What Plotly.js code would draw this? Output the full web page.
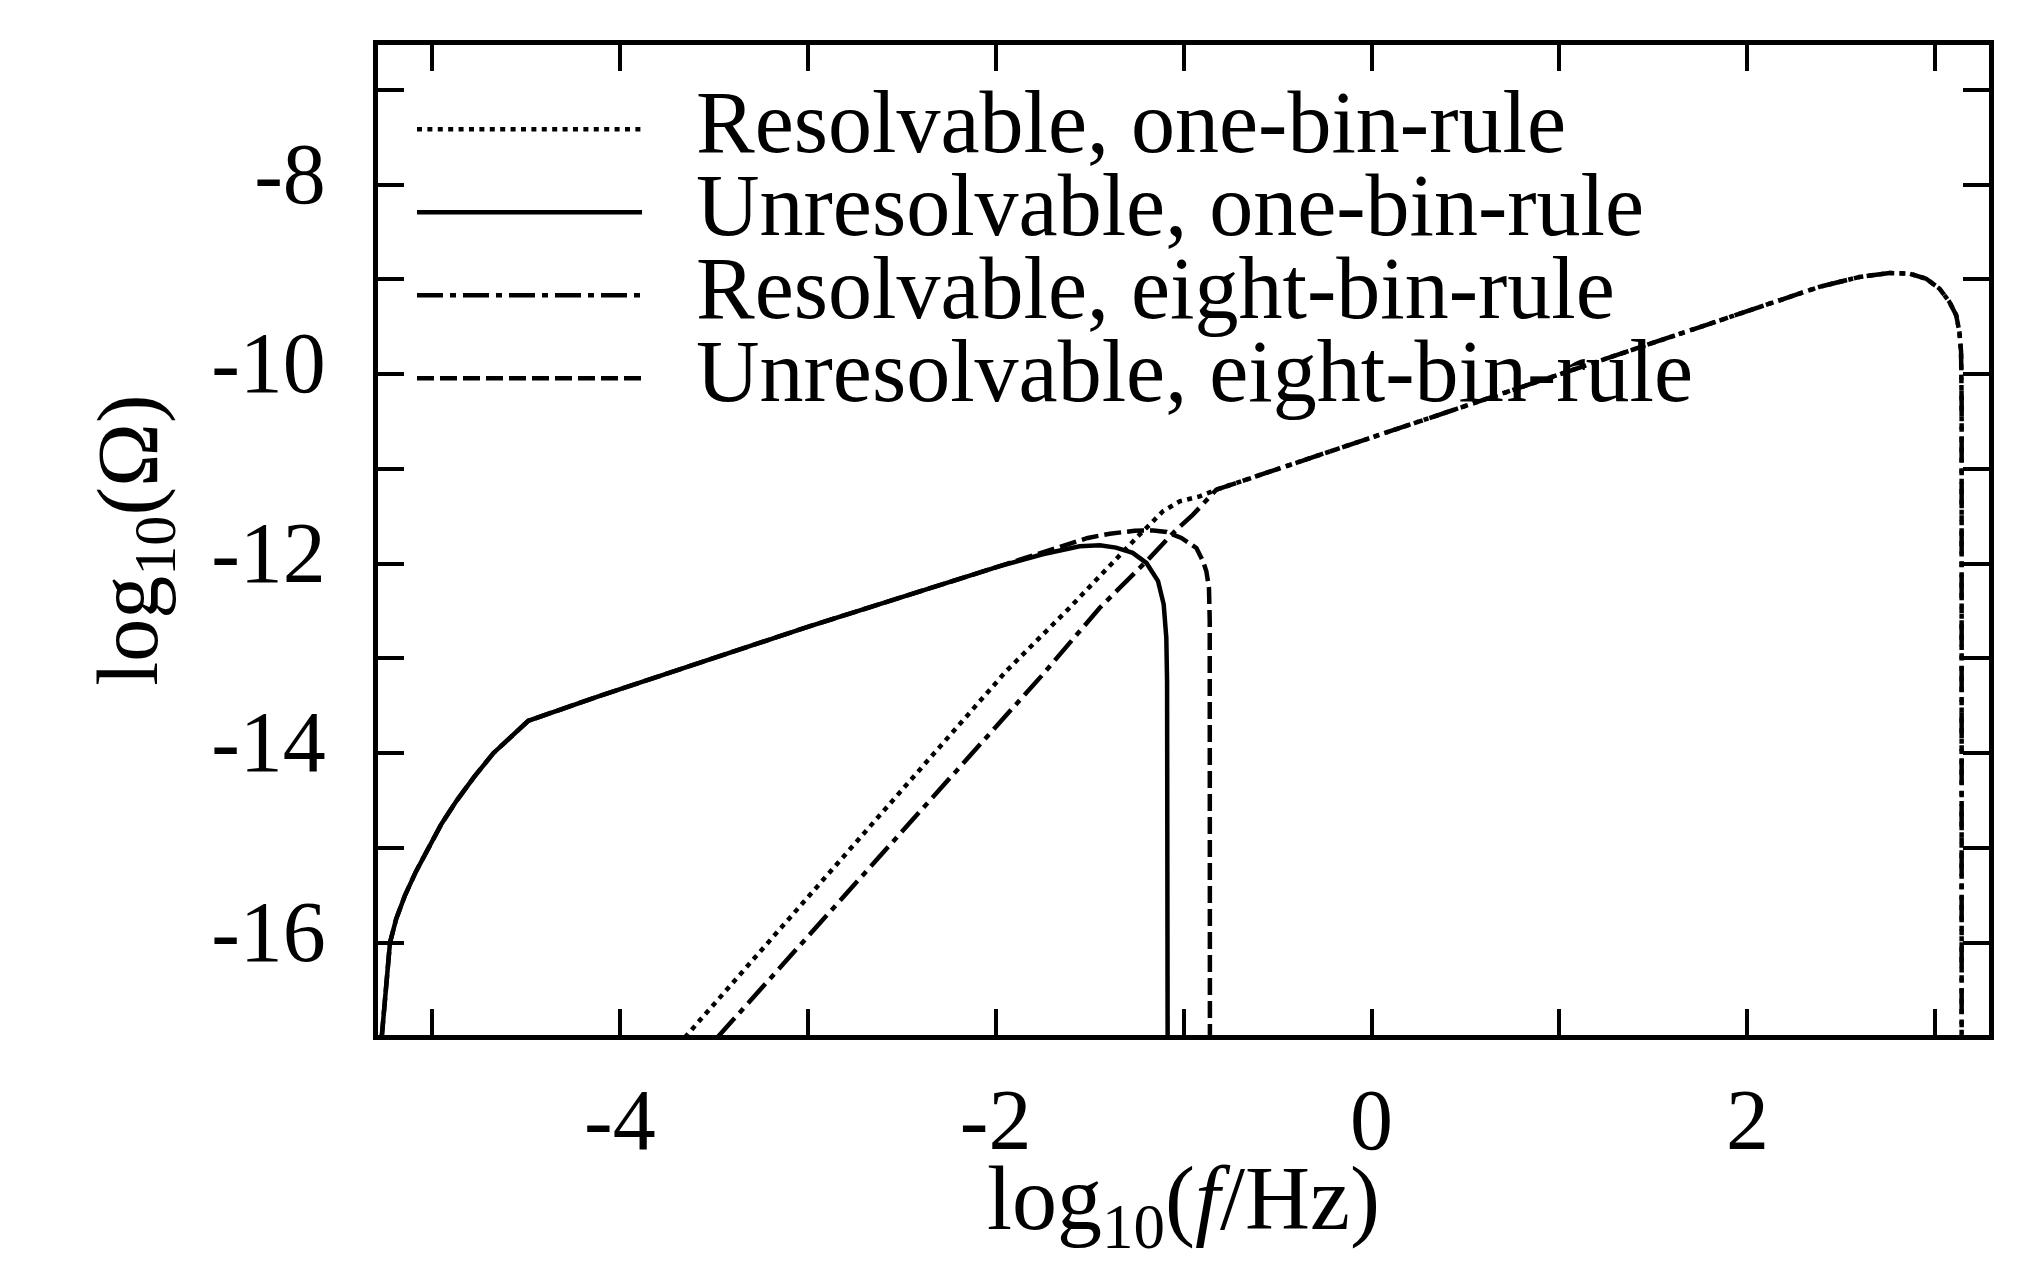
<!DOCTYPE html>
<html>
<head>
<meta charset="utf-8">
<script src="https://cdn.plot.ly/plotly-3.0.1.min.js"></script>
<style>
  html, body { margin: 0; padding: 0; background: #ffffff; }
  #chart { width: 2042px; height: 1262px; }
</style>
</head>
<body>
<div id="chart"></div>
<script>
// ---- Data ----
const seriesNames = [
  "Resolvable, one-bin-rule",
  "Unresolvable, one-bin-rule",
  "Resolvable, eight-bin-rule",
  "Unresolvable, eight-bin-rule"
];

// Resolvable, one-bin-rule (dotted)
const xResOne = [-3.654, -1.943, -1.615, -1.349, -1.243, -1.163, -1.110, -1.021, -0.914, -0.826,
                 0.0, 1.0, 2.171, 2.383, 2.596, 2.756, 2.862, 2.951, 3.022, 3.075, 3.111, 3.128, 3.137, 3.140, 3.140];
const yResOne = [-17.0, -13.132, -12.482, -11.921, -11.711, -11.553, -11.447, -11.342, -11.289, -11.219,
                 -10.668, -10.0, -9.229, -9.079, -8.974, -8.932, -8.939, -8.992, -9.097, -9.237, -9.377, -9.553, -9.763, -10.3, -17.0];

// Unresolvable, one-bin-rule (solid)
const xUnresOne = [-5.267, -5.257, -5.246, -5.235, -5.223, -5.19, -5.143, -5.085, -5.019, -4.95, -4.868, -4.775, -4.673, -4.58, -4.487,
                   -4.106, -3.0, -1.978, -1.75, -1.553, -1.446, -1.36, -1.271, -1.198, -1.136, -1.106, -1.092, -1.088, -1.085];
const yUnresOne = [-17.0, -16.75, -16.5, -16.25, -16.0, -15.75, -15.5, -15.25, -15.0, -14.75, -14.5, -14.25, -14.0, -13.83, -13.658,
                   -13.395, -12.667, -12.026, -11.9, -11.816, -11.806, -11.83, -11.886, -11.992, -12.184, -12.429, -12.781, -13.237, -17.0];

// Resolvable, eight-bin-rule (dash-dot)
const xResEight = [-3.481, -1.756, -1.446, -1.180, -1.056, -0.950, -0.826,
                   0.0, 1.0, 2.171, 2.383, 2.596, 2.756, 2.862, 2.951, 3.022, 3.075, 3.111, 3.128, 3.137, 3.140, 3.140];
const yResEight = [-17.0, -13.184, -12.465, -11.939, -11.676, -11.482, -11.219,
                   -10.668, -10.0, -9.229, -9.079, -8.974, -8.932, -8.939, -8.992, -9.097, -9.237, -9.377, -9.553, -9.763, -10.3, -17.0];

// Unresolvable, eight-bin-rule (dashed)
const xUnresEight = [-5.267, -5.257, -5.246, -5.235, -5.223, -5.19, -5.143, -5.085, -5.019, -4.95, -4.868, -4.775, -4.673, -4.58, -4.487,
                     -4.106, -3.0, -1.978, -1.75, -1.51, -1.393, -1.26, -1.16, -1.09, -1.012, -0.932, -0.897, -0.879, -0.865, -0.861, -0.860];
const yUnresEight = [-17.0, -16.75, -16.5, -16.25, -16.0, -15.75, -15.5, -15.25, -15.0, -14.75, -14.5, -14.25, -14.0, -13.83, -13.658,
                     -13.395, -12.667, -12.026, -11.885, -11.728, -11.684, -11.652, -11.65, -11.665, -11.728, -11.834, -11.974, -12.079, -12.255, -12.605, -17.0];

// Tick values and labels
const xTickVals = [-4, -2, 0, 2];
const xTickText = ["-4", "-2", "0", "2"];
const yTickVals = [-16, -14, -12, -10, -8];
const yTickText = ["-16", "-14", "-12", "-10", "-8"];

const xTitle = "log<sub>10</sub>(<i>f</i>/Hz)";
const yTitle = "log<sub>10</sub>(Ω)";

// ---- Styles ----
const FONT = "Liberation Serif, Times New Roman, serif";
const LW = 4.5;
const dashes = ["5px,5.4px", "solid", "26px,7px,6px,7px", "17px,6px"];
const seriesX = [xResOne, xUnresOne, xResEight, xUnresEight];
const seriesY = [yResOne, yUnresOne, yResEight, yUnresEight];

const traces = seriesNames.map((name, i) => ({
  type: "scatter",
  mode: "lines",
  name: name,
  x: seriesX[i],
  y: seriesY[i],
  line: { color: "#000000", width: LW, dash: dashes[i] },
  showlegend: false,
  hoverinfo: "x+y+name"
}));

// Custom legend (paper coordinates) to match compact reference spacing
const legendLineY = [0.9149, 0.8310, 0.7472, 0.6633];
const shapes = legendLineY.map((yy, i) => ({
  type: "line", xref: "paper", yref: "paper",
  x0: 0.0242, x1: 0.1639, y0: yy, y1: yy,
  line: { color: "#000000", width: LW, dash: dashes[i] }
}));
const annotations = legendLineY.map((yy, i) => ({
  xref: "paper", yref: "paper",
  x: 0.196, y: yy + 0.0071,
  xanchor: "left", yanchor: "middle",
  text: seriesNames[i], showarrow: false,
  font: { family: FONT, size: 88, color: "#000000" }
}));

const axisCommon = {
  showline: true, linecolor: "#000000", linewidth: 5,
  mirror: "allticks",
  ticks: "inside", ticklen: 26, tickwidth: 4, tickcolor: "#000000",
  minor: { dtick: 1, ticks: "inside", ticklen: 26, tickwidth: 4, tickcolor: "#000000", showgrid: false },
  showgrid: false, zeroline: false,
  tickmode: "array",
  tickfont: { family: FONT, size: 86, color: "#000000" }
};

const layout = {
  width: 2042, height: 1262,
  paper_bgcolor: "#ffffff", plot_bgcolor: "#ffffff",
  margin: { l: 378, r: 53, t: 45, b: 227 },
  showlegend: false,
  xaxis: Object.assign({}, axisCommon, {
    range: [-5.2867, 3.2856],
    tickvals: xTickVals, ticktext: xTickText,
    ticklabelstandoff: 6,
    minor: Object.assign({}, axisCommon.minor, { tick0: -5 }),
    title: { text: xTitle, font: { family: FONT, size: 90, color: "#000000" }, standoff: 28 }
  }),
  yaxis: Object.assign({}, axisCommon, {
    range: [-16.974, -6.526],
    tickvals: yTickVals, ticktext: yTickText,
    ticklabelstandoff: 30,
    ticklabelshift: -12,
    minor: Object.assign({}, axisCommon.minor, { tick0: -17 }),
    title: { text: yTitle, font: { family: FONT, size: 86, color: "#000000" }, standoff: 27 }
  }),
  shapes: shapes,
  annotations: annotations
};

Plotly.newPlot("chart", traces, layout, { displayModeBar: false, staticPlot: true });
</script>
</body>
</html>
